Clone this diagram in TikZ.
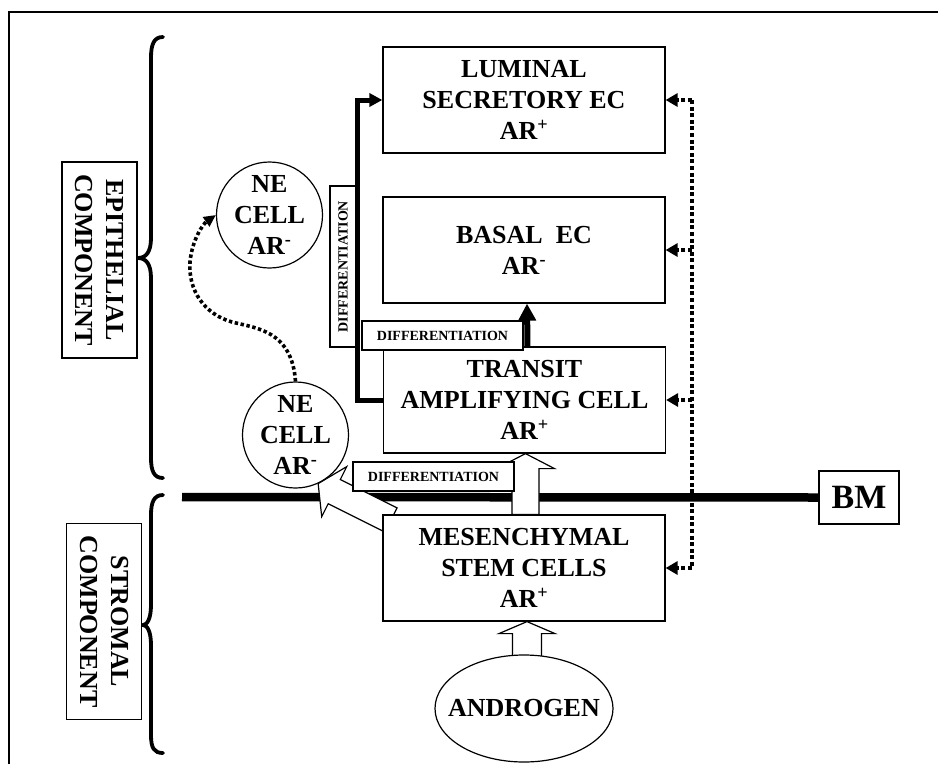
\documentclass[tikz,border=0pt]{standalone}
\usepackage{fontspec}
\setmainfont{Liberation Serif}
\usetikzlibrary{arrows.meta,calc,shapes.geometric}
\pgfdeclarelayer{bg}
\pgfsetlayers{bg,main}
% #1 tail, #2 tip, #3 half shaft width, #4 half head width, #5 head length
\newcommand\blockarrow[5]{%
  \coordinate (ba-n) at ($(#2)!#5!(#1)$);
  \draw[hollow] ($(#1)!#3!90:(#2)$) -- ($(ba-n)!#3!90:(#2)$) -- ($(ba-n)!#4!90:(#2)$) -- (#2)
     -- ($(ba-n)!#4!-90:(#2)$) -- ($(ba-n)!#3!-90:(#2)$) -- ($(#1)!#3!-90:(#2)$) -- cycle;}
\begin{document}
\begin{tikzpicture}[x=1pt,y=-1pt,
  big/.style={font=\bfseries\fontsize{26}{31}\selectfont},
  cellbox/.style={big, draw, line width=1.2pt, fill=white, minimum width=282pt, minimum height=106pt, inner sep=0pt, align=center},
  sidelabel/.style={big, draw, line width=1.2pt, fill=white, rotate=-90, align=center, inner sep=0pt, minimum width=196pt, minimum height=75pt},
  difflabel/.style={draw, line width=1.2pt, fill=white, font=\bfseries\fontsize{14}{16}\selectfont, minimum width=161pt, minimum height=29pt, inner sep=0pt},
  necell/.style={big, draw, line width=1.2pt, fill=white, circle, minimum size=106pt, inner sep=-10pt, align=center},
  brace/.style={line width=3.8pt, line cap=round},
  frame/.style={line width=1.3pt},
  thickarrow/.style={line width=5pt, line join=miter, -{Triangle[length=13pt,width=13pt]}},
  shortthick/.style={line width=6pt, -{Triangle[length=17pt,width=17pt]}},
  dotline/.style={line width=4pt, dash pattern=on 4pt off 2.6pt},
  dotarrow/.style={dotline, -{Triangle[length=12pt,width=13pt]}},
  dotcurve/.style={line width=3.6pt, dash pattern=on 3.4pt off 2.6pt, -{Triangle[length=12pt,width=11pt]}},
  hollow/.style={draw, fill=white, line width=1.2pt, line join=miter},
  bmline/.style={line width=8.5pt},
]
\useasboundingbox (0,0) rectangle (938,764);

% frame
\draw[frame] (9,764) -- (9,12) -- (938,12);

% braces
\draw[brace] (163,37) .. controls (154,37) and (151,44) .. (151,58) -- (151,238)
  .. controls (151,252) and (146,258) .. (138,258) .. controls (146,258) and (151,264) .. (151,278)
  -- (151,458) .. controls (151,471) and (154,478) .. (163,478);
\draw[brace] (163,495) .. controls (154,495) and (151,502) .. (151,515) -- (151,605)
  .. controls (151,619) and (147,625) .. (143,625) .. controls (147,625) and (151,631) .. (151,645)
  -- (151,735) .. controls (151,748) and (154,753) .. (163,753);

% side labels
\node[sidelabel] (epi) at (99.5,260) {EPITHELIAL\\COMPONENT};
\node[sidelabel] (str) at (104,621.5) {STROMAL\\COMPONENT};

% cell boxes
\node[cellbox] (lum) at (524,100) {LUMINAL\\SECRETORY EC\\AR\textsuperscript{+}};
\node[cellbox] (bas) at (524,250) {BASAL\ \ EC\\AR\textsuperscript{-}};
\node[cellbox] (tr) at (524.5,400) {TRANSIT\\AMPLIFYING CELL\\AR\textsuperscript{+}};
\node[cellbox] (mes) at (524,568) {MESENCHYMAL\\STEM CELLS\\AR\textsuperscript{+}};
\node[big, draw, ellipse, line width=1.2pt, fill=white, minimum width=178pt, minimum height=107pt,
      inner xsep=-15pt, inner ysep=0pt] (andro) at (524,708.5) {ANDROGEN};

% BM
\node[draw, line width=1.2pt, fill=white, font=\bfseries\fontsize{34}{40}\selectfont,
      minimum width=80pt, minimum height=53pt, inner sep=0pt] (bm) at (859,497.5) {BM};

% NE cells
\node[necell] (ne1) at (269.5,215) {NE\\CELL\\AR\textsuperscript{-}};
\node[necell] (ne2) at (295.5,435) {NE\\CELL\\AR\textsuperscript{-}};

% differentiation labels
\node[difflabel, rotate=90, minimum height=26pt] (d1) at (343,266.5) {DIFFERENTIATION};
\node[difflabel] (d2) at (442.5,335.5) {DIFFERENTIATION};
\node[difflabel] (d3) at (433.5,476.5) {DIFFERENTIATION};

% background layer: BM line and hollow arrows
\begin{pgfonlayer}{bg}
  \draw[bmline] (182,497) -- (bm.west);
  \coordinate (a1t) at ($(andro.north)+(3,2)$);
  \coordinate (a1h) at ($(mes.south)+(3,0)$);
  \blockarrow{a1t}{a1h}{14.5pt}{28pt}{12pt}
  \coordinate (a2t) at ($(mes.north)+(1.5,0)$);
  \coordinate (a2h) at ($(tr.south)+(1,0)$);
  \blockarrow{a2t}{a2h}{13.5pt}{29pt}{15pt}
  \coordinate (a3t) at (391,520);
  \blockarrow{a3t}{ne2.-65}{13.5pt}{28pt}{18pt}
\end{pgfonlayer}

% thick black connectors
\draw[thickarrow] (tr.west) -- ++(-25,0) |- (lum.west);
\draw[shortthick] ($(tr.north)+(3,0)$) -- ($(bas.south)+(3,0)$);

% dotted feedback bracket
\coordinate (rt) at (692,100);
\coordinate (rb) at (692,568);
\draw[dotline] (rt) -- (rb);
\foreach \n in {lum,bas,tr,mes}
  \draw[dotarrow] (\n.east -| rt) -- (\n.east);

% dotted curve between NE cells
\draw[dotcurve] (ne2.north) .. controls (292,330) and (255,328) .. (232,322)
  .. controls (204,314) and (188,290) .. (190,262)
  .. controls (192,240) and (203,224) .. (ne1.west);
\end{tikzpicture}
\end{document}
